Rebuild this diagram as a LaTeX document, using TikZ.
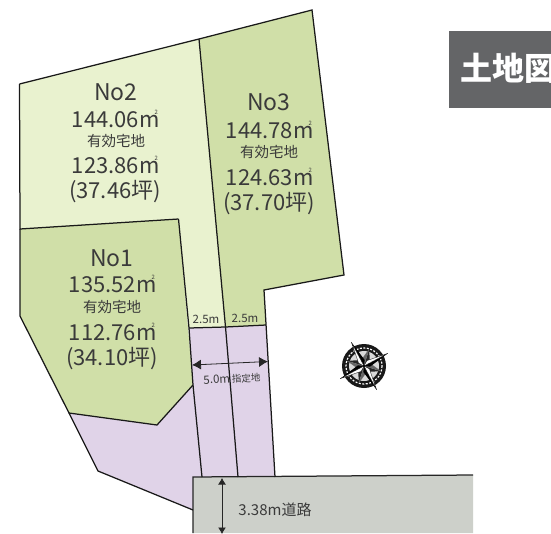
\documentclass[tikz,border=0pt]{standalone}
\usepackage{fontspec}
\setmainfont{Noto Sans CJK JP}
\usetikzlibrary{arrows.meta}
\definecolor{lotlight}{HTML}{E9F2CF}
\definecolor{lotgreen}{HTML}{D0DFA8}
\definecolor{lotpurple}{HTML}{E0D3E8}
\definecolor{roadgray}{HTML}{CDD0CA}
\definecolor{tagray}{HTML}{646567}
\definecolor{txt}{HTML}{3A3A3A}
\newcommand{\sqm}{m\raisebox{.62em}{\hspace{-.22em}\fontsize{6}{6}\selectfont 2}}
\tikzset{
 lot/.style={draw=black!90,line width=1.25pt,line join=miter},
 big/.style={text=txt,font=\fontsize{23}{23}\selectfont,inner sep=0pt},
 mid/.style={text=txt,font=\fontsize{22}{22}\selectfont,inner sep=0pt},
 sub/.style={text=txt,font=\fontsize{14.5}{14.5}\selectfont,inner sep=0pt},
 tiny/.style={text=txt,font=\fontsize{11.5}{11.5}\selectfont,inner sep=0pt},
 dim/.style={line width=.8pt,{Latex[length=9pt,width=10pt]}-{Latex[length=9pt,width=10pt]},draw=black!85},
 dimb/.style={line width=.8pt,{Latex[length=6.5pt,width=8pt]}-{Latex[length=6.5pt,width=8pt]},draw=black!85},
}
\begin{document}
\begin{tikzpicture}[x=1pt,y=-1pt]
\useasboundingbox (0,0) rectangle (551,533);
\fill[white] (0,0) rectangle (551,533);
\coordinate (a) at (19.5,84);
\coordinate (b) at (199,39);
\coordinate (c) at (312,10);
\coordinate (d) at (344,275);
\coordinate (e) at (264,290);
\coordinate (f) at (266,325);
\coordinate (g) at (225.5,327);
\coordinate (h) at (189,328);
\coordinate (i) at (178.5,219);
\coordinate (j) at (20,229);
\coordinate (k) at (20,316);
\coordinate (l) at (69,413);
\coordinate (m) at (157,425);
\coordinate (n) at (193,385);
\coordinate (o) at (98,471);
\coordinate (p) at (193,510);
\coordinate (s) at (193,477);
\coordinate (t) at (473,475);
\coordinate (u) at (275,477);
\coordinate (v) at (238,477);
\coordinate (w) at (202,477);
% purple
\fill[lotpurple] (h)--(f)--(u)--(s)--(p)--(o)--(l)--(m)--(n)--cycle;
% road
\fill[roadgray] (s)--(t)--(473,533)--(193,533)--cycle;
\draw[line width=1.25pt,draw=black!85] (193,533)--(s)--(t);
% lots
\fill[lotlight] (a)--(b)--(g)--(h)--(i)--(j)--cycle;
\fill[lotgreen] (b)--(c)--(d)--(e)--(f)--(g)--cycle;
\fill[lotgreen] (j)--(i)--(n)--(m)--(l)--(k)--cycle;
\draw[lot] (a)--(b)--(c)--(d)--(e)--(u);
\draw[lot] (b)--(g)--(v);
\draw[lot] (i)--(h)--(n)--(w);
\draw[lot] (a)--(j)--(i);
\draw[lot] (h)--(g)--(f);
\draw[lot] (j)--(k)--(l)--(m)--(n);
\draw[lot] (l)--(o)--(p);
% labels
\node[big] (n2) at (116,92) {No2};
\node[mid] (n2a) at (115,119) {144.06\sqm};
\node[sub] (n2b) at (116,141) {有効宅地};
\node[mid] (n2c) at (115,165) {123.86\sqm};
\node[mid] (n2d) at (115,192) {(37.46坪)};
\node[big] (n3) at (269,102) {No3};
\node[mid] (n3a) at (269,130) {144.78\sqm};
\node[sub] (n3b) at (269,152) {有効宅地};
\node[mid] (n3c) at (269,177) {124.63\sqm};
\node[mid] (n3d) at (269,204) {(37.70坪)};
\node[big] (n1) at (112,258) {No1};
\node[mid] (n1a) at (112,284) {135.52\sqm};
\node[sub] (n1b) at (112,307) {有効宅地};
\node[mid] (n1c) at (112,332) {112.76\sqm};
\node[mid] (n1d) at (112,359) {(34.10坪)};
\node[tiny] (w1) at (206,319) {2.5m};
\node[tiny] (w2) at (245,318) {2.5m};
\node[tiny,rotate=3] (w3) at (232,379) {5.0m\,\fontsize{9.5}{9.5}\selectfont 指定地};
\node[font=\fontsize{15}{15}\selectfont,text=txt,inner sep=0pt] (r) at (275,510) {3.38m道路};
\coordinate (p1) at (192,365);
\coordinate (p2) at (268,361.5);
\draw[dim] (p1)--(p2);
\coordinate (q1) at (222,478);
\coordinate (q2) at (222,534);
\draw[dimb] (q1)--(q2);
% title
\node[fill=tagray,minimum width=102pt,minimum height=77pt,inner sep=0pt,anchor=north west] (tb) at (449,31) {};
\node[text=white,font=\bfseries\fontsize{32}{32}\selectfont,inner sep=0pt,anchor=west] (tt) at (460,68) {土地図};
% compass
\begin{scope}[shift={(364,366)}]
\fill[black!90] (0,0) circle (22);
\draw[white,line width=1.2pt,dash pattern=on 2pt off 1.5pt] (0,0) circle (18);
\fill[white!85!black] (0,0) circle (15);
\begin{scope}[rotate=28]
\foreach \a in {45,135,225,315}{\begin{scope}[rotate=\a]
 \fill[black!85] (0,0)--(4.5,-5)--(0,-18)--cycle;
 \fill[black!60] (0,0)--(-4.5,-5)--(0,-18)--cycle;
\end{scope}}
\foreach \a in {0,90,180,270}{\begin{scope}[rotate=\a]
 \fill[black] (0,0)--(3.4,-5)--(0,-27)--cycle;
 \fill[white,draw=black,line width=.3pt] (0,0)--(-3.4,-5)--(0,-27)--cycle;
\end{scope}}
\end{scope}
\end{scope}
\end{tikzpicture}
\end{document}
